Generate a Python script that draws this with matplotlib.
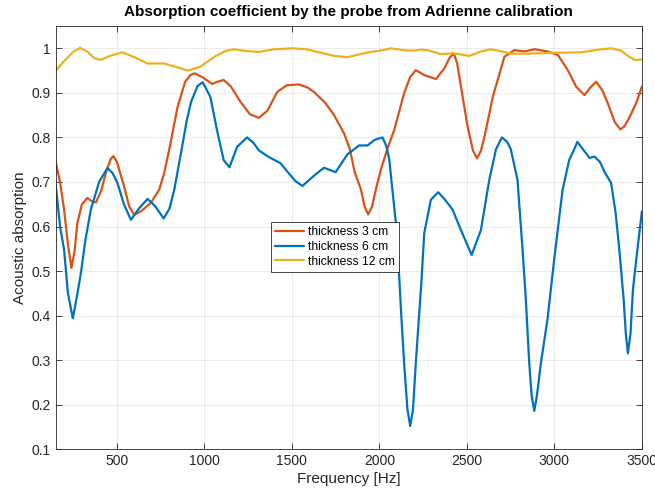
import numpy as np
import matplotlib
matplotlib.use('Agg')
import matplotlib.pyplot as plt

plt.rcParams['font.family'] = ['Liberation Sans', 'DejaVu Sans']

# frequency [Hz] / absorption
f_3cm = [150, 175, 198, 220, 240, 258, 274, 300, 331, 355, 380, 410, 440, 465, 480, 500,
         541, 570, 599, 640, 694, 742, 770, 799, 847, 890, 920, 943, 990, 1044, 1075, 1110,
         1150, 1206, 1260, 1311, 1360, 1416, 1470, 1540, 1590, 1626, 1690, 1741, 1798,
         1830, 1860, 1894, 1915, 1936, 1958, 1980, 2008, 2046, 2084, 2141, 2175, 2208,
         2256, 2323, 2371, 2400, 2425, 2445, 2466, 2504, 2535, 2558, 2580, 2600, 2648,
         2714, 2771, 2829, 2886, 2962, 3020, 3077, 3124, 3172, 3205, 3239, 3275, 3306,
         3344, 3377, 3400, 3430, 3470, 3500]
a_3cm = [0.745, 0.700, 0.638, 0.560, 0.507, 0.545, 0.608, 0.650, 0.664, 0.657, 0.654,
         0.680, 0.725, 0.752, 0.758, 0.745, 0.690, 0.645, 0.626, 0.635, 0.653, 0.683,
         0.720, 0.773, 0.869, 0.925, 0.940, 0.944, 0.935, 0.920, 0.925, 0.929, 0.915, 0.880,
         0.852, 0.844, 0.860, 0.902, 0.917, 0.919, 0.912, 0.902, 0.878, 0.850, 0.809,
         0.775, 0.720, 0.684, 0.645, 0.627, 0.645, 0.684, 0.727, 0.775, 0.816, 0.899,
         0.935, 0.951, 0.940, 0.931, 0.955, 0.978, 0.989, 0.965, 0.914, 0.824, 0.770,
         0.753, 0.770, 0.801, 0.891, 0.981, 0.996, 0.993, 0.998, 0.993, 0.985, 0.951,
         0.914, 0.895, 0.912, 0.925, 0.905, 0.876, 0.835, 0.818, 0.825, 0.846, 0.880,
         0.914]

f_6cm = [150, 175, 198, 220, 248, 270, 294, 320, 351, 399, 446, 475, 503, 540, 580, 625,
         675, 720, 767, 800, 828, 866, 900, 924, 960, 990, 1034, 1072, 1110, 1143, 1187,
         1244, 1280, 1311, 1368, 1435, 1483, 1520, 1560, 1626, 1683, 1750, 1817, 1884,
         1932, 1975, 2018, 2040, 2056, 2094, 2113, 2125, 2141, 2160, 2176, 2192, 2208,
         2241, 2256, 2294, 2336, 2375, 2418, 2466, 2527, 2580, 2628, 2666, 2700, 2730,
         2751, 2789, 2818, 2837, 2856, 2870, 2885, 2900, 2923, 2960, 3000, 3047, 3085,
         3113, 3131, 3160, 3201, 3230, 3260, 3290, 3324, 3350, 3371, 3396, 3408, 3420,
         3435, 3449, 3468, 3500]
a_6cm = [0.694, 0.600, 0.548, 0.450, 0.394, 0.440, 0.495, 0.570, 0.638, 0.701, 0.731,
         0.720, 0.698, 0.650, 0.615, 0.640, 0.662, 0.645, 0.618, 0.640, 0.683, 0.765,
         0.840, 0.880, 0.915, 0.924, 0.891, 0.816, 0.749, 0.733, 0.779, 0.800, 0.788,
         0.771, 0.756, 0.742, 0.719, 0.702, 0.691, 0.714, 0.732, 0.722, 0.762, 0.782,
         0.782, 0.795, 0.800, 0.780, 0.751, 0.608, 0.488, 0.400, 0.294, 0.190, 0.152,
         0.190, 0.294, 0.482, 0.585, 0.660, 0.677, 0.660, 0.638, 0.592, 0.536, 0.592,
         0.705, 0.773, 0.800, 0.790, 0.773, 0.705, 0.548, 0.435, 0.294, 0.220, 0.186,
         0.220, 0.294, 0.390, 0.530, 0.683, 0.750, 0.773, 0.790, 0.775, 0.754, 0.757,
         0.745, 0.720, 0.698, 0.630, 0.548, 0.435, 0.360, 0.315, 0.360, 0.459, 0.527,
         0.634]

f_12cm = [150, 200, 250, 289, 330, 370, 408, 460, 532, 600, 675, 770, 840, 904, 977,
          1057, 1120, 1168, 1240, 1311, 1400, 1511, 1580, 1645, 1740, 1817, 1890, 1950,
          2008, 2065, 2122, 2160, 2198, 2236, 2276, 2351, 2427, 2513, 2580, 2637, 2700,
          2751, 2847, 2999, 3152, 3250, 3324, 3380, 3420, 3458, 3500]
a_12cm = [0.950, 0.972, 0.992, 1.001, 0.993, 0.978, 0.974, 0.983, 0.991, 0.980, 0.966,
          0.966, 0.958, 0.950, 0.959, 0.981, 0.994, 0.998, 0.994, 0.992, 0.998, 1.000,
          0.998, 0.992, 0.983, 0.980, 0.987, 0.992, 0.995, 1.000, 0.997, 0.995, 0.995,
          0.997, 0.996, 0.987, 0.989, 0.983, 0.993, 0.998, 0.993, 0.988, 0.988, 0.990,
          0.991, 0.997, 1.000, 0.995, 0.983, 0.974, 0.975]

labels = ['thickness 3 cm', 'thickness 6 cm', 'thickness 12 cm']
colors = ['#D95319', '#0072BD', '#EDB120']
xticks = [500, 1000, 1500, 2000, 2500, 3000, 3500]
yticks = [0.1, 0.2, 0.3, 0.4, 0.5, 0.6, 0.7, 0.8, 0.9, 1.0]
ytick_labels = ['0.1', '0.2', '0.3', '0.4', '0.5', '0.6', '0.7', '0.8', '0.9', '1']

dark = '#262626'

fig = plt.figure(figsize=(6.55, 4.92), dpi=100)
ax = fig.add_axes([0.085, 0.087, 0.895, 0.860])

series = [(f_3cm, a_3cm), (f_6cm, a_6cm), (f_12cm, a_12cm)]
for (f, a), lab, c in zip(series, labels, colors):
    ax.plot(f, a, color=c, lw=1.6, label=lab,
            solid_joinstyle='round', solid_capstyle='round')

ax.set_xlim(150, 3500)
ax.set_ylim(0.1, 1.05)
ax.set_xticks(xticks)
ax.set_yticks(yticks)
ax.set_yticklabels(ytick_labels)
ax.grid(True, color=dark, alpha=0.1, lw=0.6)
ax.tick_params(direction='in', length=4, width=0.6, colors=dark, labelsize=10,
               top=True, right=True)
for s in ax.spines.values():
    s.set_color(dark)
    s.set_linewidth(0.6)

ax.set_title('Absorption coefficient by the probe from Adrienne calibration',
             fontsize=11, fontweight='bold', color='black', pad=7)
ax.set_xlabel('Frequency [Hz]', fontsize=11, color=dark, labelpad=3)
ax.set_ylabel('Acoustic absorption', fontsize=11, color=dark, labelpad=3)

leg = ax.legend(loc='center', bbox_to_anchor=(0.476, 0.478), fontsize=8.7,
                handlelength=2.4, handletextpad=0.3, borderpad=0.35, labelspacing=0.22,
                fancybox=False, framealpha=1, edgecolor=dark, borderaxespad=0)
leg.get_frame().set_linewidth(0.6)

fig.savefig('out.png', dpi=100)
